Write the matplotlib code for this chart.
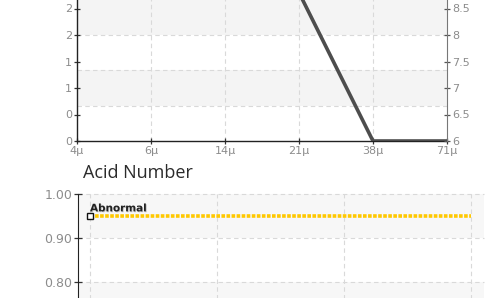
import matplotlib
matplotlib.use("Agg")
import matplotlib.pyplot as plt
import matplotlib.patheffects as pe
from matplotlib.patches import Rectangle
from matplotlib.ticker import FuncFormatter

# --- data ---
sizes = ["4μ", "6μ", "14μ", "21μ", "38μ", "71μ"]
counts = [9.6, 9.6, 9.4, 8.8, 6.0, 6.0]          # right axis series
left_ticks = [0.0, 0.4, 0.8, 1.2, 1.6, 2.0]
right_ticks = [6.0, 6.5, 7.0, 7.5, 8.0, 8.5]

acid_points = [0, 1, 2, 3]
acid_abnormal = [0.95, 0.95, 0.95, 0.95]
acid_ticks = [0.80, 0.90, 1.00]

TICK_FONT = ["Liberation Sans Narrow", "DejaVu Sans"]
TICK_COLOR = "#8c8c8c"
BAND = "#f4f4f4"
GRID = "#d9d9d9"

fig = plt.figure(figsize=(5.0, 2.98), dpi=100)

# =============================================================================
# top chart (particle count, cropped at the top)
# =============================================================================
ax = fig.add_axes([77 / 500, 1 - 141 / 298, 370 / 500, 142 / 298])
ax.set_xlim(0, len(sizes) - 1)
ax.set_ylim(0, 0.4 * 142 / 26.5)

for y0 in (0.25, 0.75):
    ax.add_patch(Rectangle((0, y0), 1, 0.25, transform=ax.transAxes,
                           facecolor=BAND, edgecolor="none", zorder=0))
for yf in (0.25, 0.5, 0.75):
    ax.axhline(ax.get_ylim()[1] * yf, color=GRID, lw=0.8, ls=(0, (4, 3)), zorder=1)
for i in range(1, len(sizes) - 1):
    ax.axvline(i, color=GRID, lw=0.8, ls=(0, (4, 3)), zorder=1)

ax.set_xticks(range(len(sizes)))
ax.set_xticklabels(sizes)
ax.set_yticks(left_ticks)
ax.yaxis.set_major_formatter(FuncFormatter(lambda v, p: f"{v:.0f}"))

ax.spines["top"].set_visible(False)
ax.spines["right"].set_visible(False)
ax.spines["left"].set_color("#222222")
ax.spines["bottom"].set_color("#222222")
ax.spines["left"].set_linewidth(1.0)
ax.spines["bottom"].set_linewidth(1.0)
ax.tick_params(axis="both", direction="inout", length=5, width=0.9, color="#333333",
               labelcolor=TICK_COLOR, labelsize=8, pad=1)

ax2 = ax.twinx()
ax2.set_ylim(6, 6 + 142 / 53)
ax2.set_yticks(right_ticks)
ax2.yaxis.set_major_formatter(FuncFormatter(lambda v, p: f"{v:g}"))
ax2.plot(range(len(sizes)), counts, color="#4d4d4d", lw=2.6, solid_capstyle="butt",
         clip_on=True, zorder=3)
for s in ("top", "left", "bottom"):
    ax2.spines[s].set_visible(False)
ax2.spines["right"].set_color("#777777")
ax2.tick_params(axis="y", direction="inout", length=5, width=0.9, color="#555555",
                labelcolor=TICK_COLOR, labelsize=8, pad=1)

for a in (ax, ax2):
    for lab in a.get_xticklabels() + a.get_yticklabels():
        lab.set_family(TICK_FONT)

# =============================================================================
# bottom chart (Acid Number, cropped at the bottom)
# =============================================================================
bx = fig.add_axes([78 / 500, 1 - 326 / 298, 406 / 500, 132 / 298])
bx.set_xlim(-12 / 127, 3 + 13 / 127)
bx.set_ylim(0.70, 1.00)

bx.axhspan(0.90, 1.00, color="#f7f7f7", zorder=0, lw=0)
bx.axhspan(0.70, 0.80, color="#f7f7f7", zorder=0, lw=0)
for yv in acid_ticks:
    bx.axhline(yv, color=GRID, lw=0.8, ls=(0, (4, 3)), zorder=1, clip_on=False)
for xv in acid_points:
    bx.axvline(xv, color=GRID, lw=0.8, ls=(0, (4, 3)), zorder=1)

bx.plot(acid_points, acid_abnormal, color="#ffc800", lw=2.6, ls=(0, (1, 0.4)),
        zorder=3)
bx.plot(acid_points[:1], acid_abnormal[:1], ls="none", marker="s", ms=4,
        mfc="white", mec="#111111", mew=1.0, zorder=4)
bx.text(acid_points[0], acid_abnormal[0] + 0.006, "Abnormal", fontsize=7.5,
        fontweight="bold", color="#222222", family=TICK_FONT, ha="left", va="bottom",
        path_effects=[pe.withSimplePatchShadow(offset=(0.6, -0.6), shadow_rgbFace="#999999",
                                               alpha=0.6)])

bx.set_yticks(acid_ticks)
bx.yaxis.set_major_formatter(FuncFormatter(lambda v, p: f"{v:.2f}"))
bx.set_xticks([])
for s in ("top", "right", "bottom"):
    bx.spines[s].set_visible(False)
bx.spines["left"].set_color("#222222")
bx.tick_params(axis="y", direction="inout", length=6, width=0.9, color="#333333",
               labelcolor=TICK_COLOR, labelsize=9, pad=1)
for lab in bx.get_yticklabels():
    lab.set_family(TICK_FONT)

fig.text(83 / 500, 1 - 173 / 298, "Acid Number", fontsize=13, color="#2b2b2b",
         ha="left", va="center", family=["Open Sans", "DejaVu Sans"])

fig.savefig("out.png", dpi=100)
